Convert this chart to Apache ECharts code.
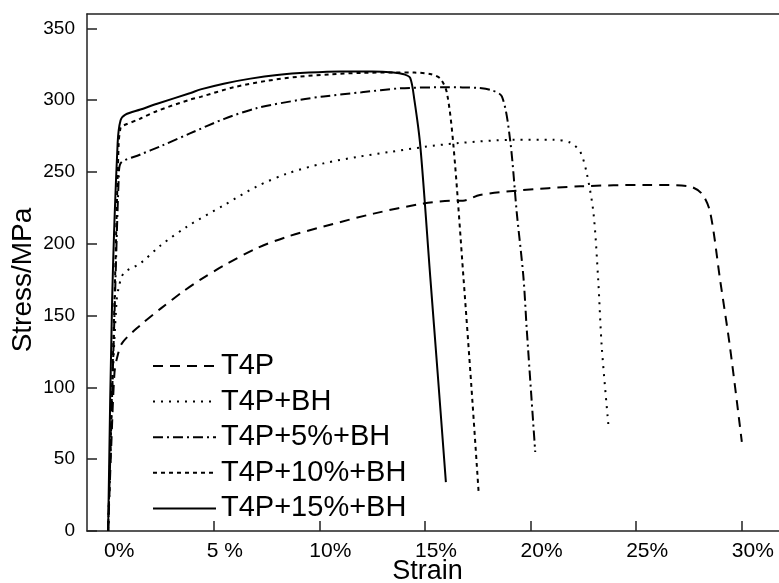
<!DOCTYPE html>
<html>
<head>
<meta charset="utf-8">
<script src="https://cdn.jsdelivr.net/npm/echarts@6/dist/echarts.min.js"></script>
<style>html,body{margin:0;padding:0;background:#fff}#c{width:779px;height:583px}</style>
</head>
<body>
<div id="c"></div>
<script>
// strain (%) , stress (MPa)
const seriesNames = ['T4P', 'T4P+BH', 'T4P+5%+BH', 'T4P+10%+BH', 'T4P+15%+BH'];
const t4p = [[0,0],[0.15,60],[0.3,110],[0.43,121],[0.67,131],[1.5,143],[2.5,155],[3.57,167],[4.37,175],[5.5,185],[7.05,197],[8.5,205],[10.2,212],[12.57,221],[14.93,228],[16.5,230],[16.8,230],[17.6,234],[19.35,237],[22.35,240],[25.5,241],[27.5,240],[28.1,235],[28.5,222],[28.97,175],[29.44,128],[30.0,62]];
const t4pBH = [[0,0],[0.2,100],[0.4,160],[0.51,170],[0.74,179.5],[1.53,186.5],[2.5,199],[3.74,212],[5.5,227],[7.05,240],[8.5,249],[10.2,256],[11.8,260.5],[13.36,264],[15,267.5],[16.5,270],[19.19,272.4],[21.08,272.4],[21.87,270.5],[22.35,264],[22.66,249],[22.98,221],[23.2,175],[23.37,128],[23.69,72.7]];
const t4p5BH = [[0,0],[0.3,150],[0.5,245],[0.59,256],[1.5,262],[2.5,268],[3.9,277],[5.5,287],[7.05,294.5],[9.1,300.3],[10.2,302.6],[12,305.5],[13.8,308.2],[16.04,309],[17.5,308.5],[18.09,307.2],[18.64,302.6],[19.03,272.4],[19.35,221],[19.66,177],[19.82,140],[20.22,55]];
const t4p10BH = [[0,0],[0.3,160],[0.5,270],[0.59,281],[0.67,282],[1.5,287],[2.32,292.5],[3.9,300.5],[4.38,302.3],[5.95,309],[7.53,313.5],[9,316.3],[10.5,318],[12,319],[13.5,319.3],[14.5,319.2],[15.3,318],[15.73,315],[16.04,305],[16.35,268],[16.83,175],[17.2,100],[17.54,27]];
const t4p15BH = [[0,0],[0.19,161],[0.45,270],[0.59,286],[0.82,290],[1.53,293.5],[2.32,297.5],[3.9,305],[4.38,307.5],[5.47,311.5],[6.74,315],[8,317.5],[9.5,319.2],[11,320],[12.5,320],[13.5,319.3],[14,318],[14.3,315.5],[14.5,300],[14.78,268],[15.25,177],[15.6,110],[15.99,34]];
const xTickValues = [0, 5, 10, 15, 20, 25, 30];
const xTickLabels = ['0%', '5 %', '10%', '15%', '20%', '25%', '30%'];
const yTickValues = [0, 50, 100, 150, 200, 250, 300, 350];

const FONT = 'Liberation Sans, Arial, sans-serif';
const dashes = [[10, 7], [2, 6], [10, 4, 2, 4], [4, 4], 'solid'];
const datasets = [t4p, t4pBH, t4p5BH, t4p10BH, t4p15BH];

const chart = echarts.init(document.getElementById('c'), null, {renderer: 'canvas'});
chart.setOption({
  animation: false,
  backgroundColor: '#fff',
  grid: {left: 87, right: 0, top: 14, bottom: 52, containLabel: false, outerBoundsMode: 'none'},
  legend: {
    orient: 'vertical', left: 147, top: 346, itemWidth: 63, itemHeight: 14, itemGap: 5.6,
    data: seriesNames,
    itemStyle: {opacity: 0},
    textStyle: {fontFamily: FONT, fontSize: 29, color: '#000', lineHeight: 30, padding: [0,0,0,0]}
  },
  xAxis: [{
    type: 'value', min: -1, max: 31.76,
    name: 'Strain', nameLocation: 'middle', nameGap: 27, nameMoveOverlap: false,
    nameTextStyle: {fontFamily: FONT, fontSize: 27, color: '#000', padding: [0,11,0,0]},
    axisLine: {show: true, onZero: false, lineStyle: {color: '#222', width: 1.5}},
    axisTick: {show: true, inside: true, length: 10, customValues: xTickValues, lineStyle: {color: '#222', width: 1.5}},
    axisLabel: {customValues: xTickValues, fontFamily: FONT, fontSize: 21, color: '#000', margin: 10, padding: [0,0,0,22],
      formatter: v => { const i = xTickValues.indexOf(Math.round(v)); return i >= 0 ? xTickLabels[i] : ''; }},
    splitLine: {show: false}
  }, {
    type: 'value', min: -1, max: 31.76, position: 'top',
    axisLine: {show: true, onZero: false, lineStyle: {color: '#222', width: 1.5}},
    axisTick: {show: false}, axisLabel: {show: false}, splitLine: {show: false}
  }],
  yAxis: {
    type: 'value', min: 0, max: 360,
    name: 'Stress/MPa', nameLocation: 'middle', nameGap: 50, nameRotate: 90, nameMoveOverlap: false,
    nameTextStyle: {fontFamily: FONT, fontSize: 28, color: '#000', padding: [0,15,0,0]},
    axisLine: {show: true, onZero: false, lineStyle: {color: '#222', width: 1.5}},
    axisTick: {show: true, inside: true, length: 10, customValues: yTickValues, lineStyle: {color: '#222', width: 1.5}},
    axisLabel: {customValues: yTickValues, fontFamily: FONT, fontSize: 19, color: '#000', margin: 12},
    splitLine: {show: false}
  },
  series: seriesNames.map((n, i) => ({
    name: n, type: 'line', data: datasets[i], symbol: 'none', smooth: 0.3,
    lineStyle: {color: '#000', width: 2, type: dashes[i]},
    itemStyle: {color: '#000'}
  }))
});
</script>
</body>
</html>
